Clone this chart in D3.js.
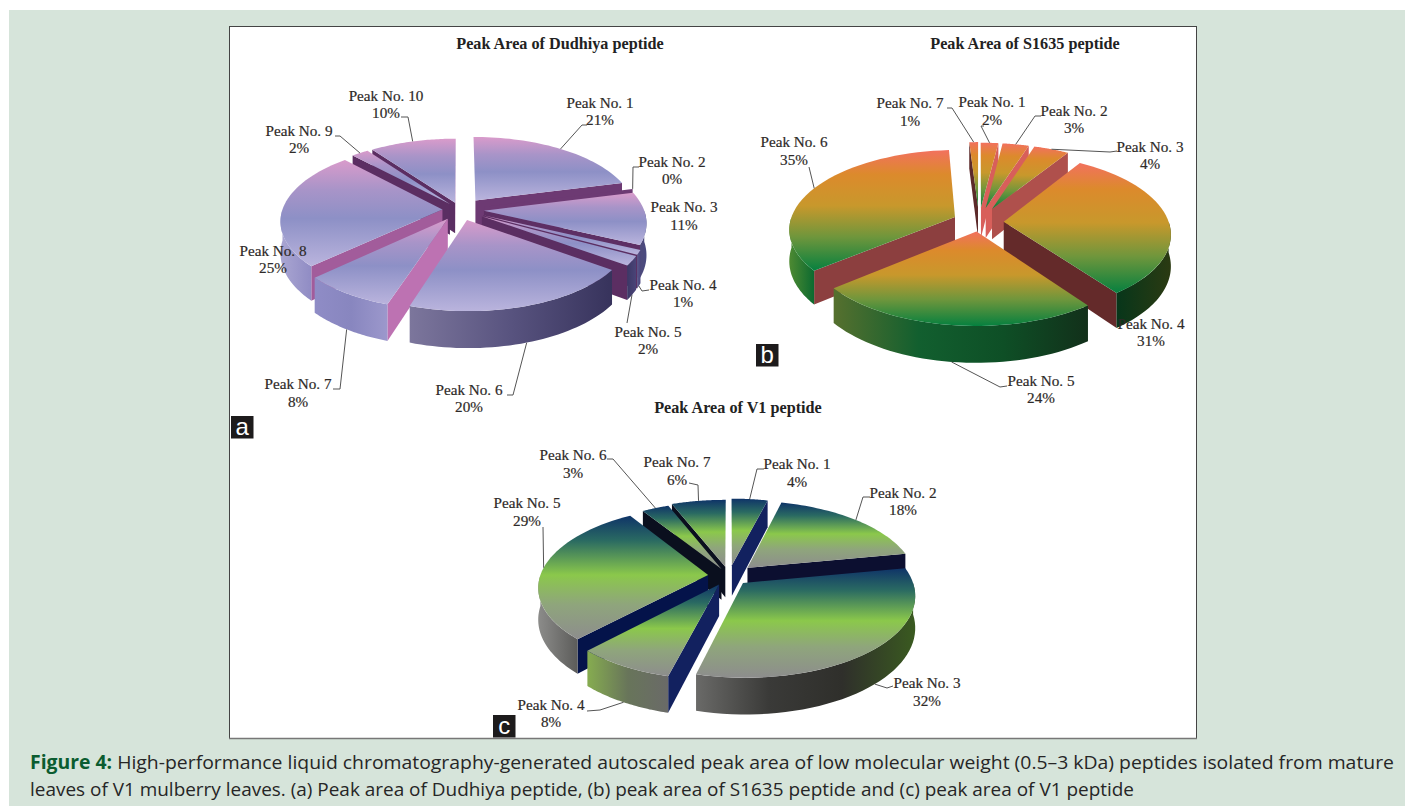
<!DOCTYPE html>
<html>
<head>
<meta charset="utf-8">
<script src="https://cdnjs.cloudflare.com/ajax/libs/d3/7.8.5/d3.min.js"></script>
<style>
html,body{margin:0;padding:0;background:#fff;overflow:hidden}
svg{display:block}
.lab{font-family:"Liberation Serif",serif;font-size:15.2px;fill:#2e2a28;stroke:#2e2a28;stroke-width:.2px;text-anchor:middle}
.ttl{font-family:"Liberation Serif",serif;font-size:16.2px;font-weight:bold;fill:#222;text-anchor:middle}
.tag{font-family:"Liberation Sans",sans-serif;font-size:24px;fill:#fff;text-anchor:middle}
.cap{font-family:"Open Sans",sans-serif;font-size:19px;fill:#262626}
.capb{font-weight:bold;fill:#0b5c30}
</style>
</head>
<body>
<svg id="fig" width="1405" height="806"></svg>
<script>
// Peak areas, percent of total, per peptide
const dudhiyaPeaks = [1, 2, 3, 4, 5, 6, 7, 8, 9, 10];
const dudhiyaValues = [21, 0, 11, 1, 2, 20, 8, 25, 2, 10];
const s1635Peaks = [1, 2, 3, 4, 5, 6, 7];
const s1635Values = [2, 3, 4, 31, 24, 35, 1];
const v1Peaks = [1, 2, 3, 4, 5, 6, 7];
const v1Values = [4, 18, 32, 8, 29, 3, 6];

const captionBold = "Figure 4:";
const captionLine1 = " High-performance liquid chromatography-generated autoscaled peak area of low molecular weight (0.5\u20133 kDa) peptides isolated from mature";
const captionLine2 = "leaves of V1 mulberry leaves. (a) Peak area of Dudhiya peptide, (b) peak area of S1635 peptide and (c) peak area of V1 peptide";

// Chart placement and styling. label: [centre x, line 1 y, line 2 y, leader bend points]
const charts = [
  {
    key: "a", title: "Peak Area of Dudhiya peptide", titleAt: [560, 44],
    peaks: dudhiyaPeaks, values: dudhiyaValues,
    cx: 460, cy: 209.7, rx: 160, ry: 75, persp: 0.143, depth: 31,
    explode: [0.16, 0.16, 0.15, 0.16, 0.16, 0.14, 0.14, 0.11, 0.1, 0.1],
    top: [[0, "#d99bcb"], [0.28, "#a894c8"], [0.55, "#8d90c6"], [1, "#bab4dd"]],
    wallNormals: [90, 108, 137, 166, 210, 270],
    wallColors: ["#bd72b2", "#bd72b2", "#a25c9b", "#6c3a72", "#5b2e62", "#5b2e62"],
    side: {
      2: ["#4e4a7a", "#4a4a80"], 3: ["#5c5888", "#4a4680"], 4: ["#3c3866", "#4a4478"],
      5: ["#7c769c", "#58537f", "#37335c"], 6: ["#8f8cc6", "#8886bf", "#9c98cc"], 7: ["#aaa6d2", "#908cc4"]
    },
    labels: [
      [600, 103, 120, [[582, 125], [587, 125]]], [672, 162, 179, [[633, 167], [639, 167]]],
      [684, 207, 225, null], [683, 285, 302, [[642, 291], [649, 290]]],
      [648, 332, 349, [[627, 323]]], [469, 390, 407, [[513, 395], [507, 395]]],
      [298, 384, 402, [[340, 389], [333, 389]]], [273, 251, 268, null],
      [299, 131, 148, [[340, 136], [335, 136]]], [386, 96, 113, [[408, 117], [401, 117]]]
    ],
    tagBox: [231, 416]
  },
  {
    key: "b", title: "Peak Area of S1635 peptide", titleAt: [1025, 44],
    peaks: s1635Peaks, values: s1635Values,
    cx: 979, cy: 222, rx: 165, ry: 78, persp: 0.143, depth: 31,
    explode: [0.19, 0.19, 0.19, 0.15, 0.12, 0.16, 0.2],
    top: [[0, "#f2715e"], [0.2, "#dc8a2c"], [0.46, "#c8982c"], [0.72, "#6f963c"], [1, "#06803f"]],
    wallNormals: [90, 108, 122, 140, 234, 270],
    wallColors: ["#d85f5a", "#d85f5a", "#b0504c", "#8c3f3f", "#642a2a", "#5b2a2a"],
    side: {
      3: ["#07361a", "#2b3a12"], 4: ["#56702e", "#125f2f", "#0e4f26", "#12301a"], 5: ["#4e8a32", "#0c6a30"]
    },
    labels: [
      [992, 102, 120, [[981, 126], [984, 126]]], [1074, 111, 128, [[1035, 116], [1041, 116]]],
      [1150, 147, 164, [[1110, 152], [1117, 151]]], [1151, 324, 341, null],
      [1041, 381, 398, [[1000, 387], [1007, 386]]], [794, 142, 160, [[809, 167]]],
      [910, 103, 121, [[952, 108], [947, 108]]]
    ],
    tagBox: [756, 344]
  },
  {
    key: "c", title: "Peak Area of V1 peptide", titleAt: [738, 408],
    peaks: v1Peaks, values: v1Values,
    cx: 729, cy: 576, rx: 168, ry: 79, persp: 0.143, depth: 31,
    explode: [0.14, 0.153, 0.12, 0.12, 0.125, 0.1, 0.12],
    top: [[0, "#0f3468"], [0.2, "#2a6a62"], [0.48, "#8bc84b"], [0.72, "#8fa57c"], [1, "#8d8d8d"]],
    wallNormals: [90, 104, 133, 169, 237, 270],
    wallColors: ["#12215f", "#12215f", "#04134a", "#0c0f30", "#0a0f1e", "#0a0f1e"],
    side: {
      2: ["#6a6a68", "#3a3a38", "#2f2f2b", "#3a5a20"], 3: ["#86ac50", "#68755a", "#6a6a68"], 4: ["#8c8c8a", "#5c5c5a"]
    },
    labels: [
      [797, 464, 482, [[757, 469], [764, 469]]], [903, 493, 510, [[863, 497], [870, 497]]],
      [927, 683, 701, [[887, 688], [893, 686]]], [551, 705, 722, [[600, 710], [587, 711]]],
      [527, 503, 521, [[543, 527]]], [573, 455, 473, [[613, 459], [607, 459]]],
      [677, 462, 480, [[698, 485], [689, 483]]]
    ],
    tagBox: [493, 715]
  }
];

const svg = d3.select("#fig");
const defs = svg.append("defs");

// page background and the white figure frame
svg.append("rect").attr("x", 9).attr("y", 10).attr("width", 1396).attr("height", 796).attr("fill", "#d6e4da");
svg.append("rect").attr("x", 229.5).attr("y", 26.5).attr("width", 967).attr("height", 712)
  .attr("fill", "#fff").attr("stroke", "#444").attr("stroke-width", 1);
svg.append("line").attr("x1", 229).attr("x2", 1197).attr("y1", 738.5).attr("y2", 738.5)
  .attr("stroke", "#777").attr("stroke-width", 1.5);

const toDeg = r => r * 180 / Math.PI;
const smooth = d3.line();

function gradient(id, stops, horizontal) {
  const g = defs.append("linearGradient").attr("id", id)
    .attr("x1", 0).attr("y1", 0).attr("x2", horizontal ? 1 : 0).attr("y2", horizontal ? 0 : 1);
  stops.forEach(s => g.append("stop").attr("offset", s[0]).attr("stop-color", s[1]));
  return `url(#${id})`;
}

function drawChart(c) {
  const g = svg.append("g");
  const xScale = d3.scaleLinear().domain([-1, 1]).range([-c.rx, c.rx]);
  const zScale = d3.scaleLinear().domain([-1, 1]).range([-c.ry, c.ry]);
  const wallShade = d3.scaleLinear().domain(c.wallNormals).range(c.wallColors).interpolate(d3.interpolateRgb);

  // ground plane to screen, with a little perspective toward the viewer
  const project = (x, z, lift) => {
    const w = 1 / (1 - c.persp * z);
    return [c.cx + xScale(x) * w, c.cy + zScale(z) * w + (lift ? c.depth * w : 0)];
  };

  const arcs = d3.pie().sort(null).startAngle(0).endAngle(2 * Math.PI)(c.values);

  const slices = arcs.map((a, i) => {
    const mid = (a.startAngle + a.endAngle) / 2;
    const e = c.explode[i];
    const ox = Math.sin(mid) * e, oz = -Math.cos(mid) * e;
    const rim = (t, lift) => project(ox + Math.sin(t), oz - Math.cos(t), lift);
    const apex = lift => project(ox, oz, lift);
    return { a, i, mid, rim, apex, order: -Math.cos(mid) * (0.5 + e) };
  });

  slices.sort((p, q) => d3.ascending(p.order, q.order));

  slices.forEach(s => {
    const { a, i, rim, apex } = s;
    const group = g.append("g");
    const steps = t0 => t1 => d3.range(0, 41).map(k => t0 + (t1 - t0) * k / 40);

    // cut faces that turn toward the viewer
    const wall = (t, normal) => group.append("path")
      .attr("d", smooth([apex(false), rim(t, false), rim(t, true), apex(true)]) + "Z")
      .attr("fill", wallShade(((normal % 360) + 360) % 360 < 90 ? 90 : ((normal % 360) + 360) % 360));
    if (Math.sin(a.startAngle) < 0) wall(a.startAngle, toDeg(a.startAngle) - 90);
    if (Math.sin(a.endAngle) > 0) wall(a.endAngle, toDeg(a.endAngle) + 90);

    // outer rim on the front half
    const t0 = Math.max(a.startAngle, Math.PI / 2), t1 = Math.min(a.endAngle, 3 * Math.PI / 2);
    if (t1 > t0) {
      const ts = steps(t0)(t1);
      const stops = c.side[i] || ["#444", "#444"];
      const fill = gradient(`side-${c.key}-${i}`, stops.map((col, k) => [k / (stops.length - 1), col]), true);
      group.append("path")
        .attr("d", smooth(ts.map(t => rim(t, false)).concat(ts.slice().reverse().map(t => rim(t, true)))) + "Z")
        .attr("fill", fill);
    }

    // top face
    if (a.endAngle > a.startAngle) {
      const ts = steps(a.startAngle)(a.endAngle);
      group.append("path")
        .attr("d", smooth([apex(false)].concat(ts.map(t => rim(t, false)))) + "Z")
        .attr("fill", gradient(`top-${c.key}-${i}`, c.top, false));
    }
  });

  // leader lines start on the rim of their slice
  const byIndex = d3.index(slices, s => s.i);
  const text = svg.append("g");
  c.peaks.forEach((peak, i) => {
    const [lx, y1, y2, bends] = c.labels[i];
    if (bends) {
      const s = byIndex.get(i);
      const front = Math.cos(s.mid) < 0;
      text.append("path")
        .attr("d", smooth([s.rim(s.mid, front)].concat(bends)))
        .attr("fill", "none").attr("stroke", "#555").attr("stroke-width", 1);
    }
    text.append("text").attr("class", "lab").attr("x", lx).attr("y", y1 + 5).text(`Peak No. ${peak}`);
    text.append("text").attr("class", "lab").attr("x", lx).attr("y", y2 + 5).text(`${c.values[i]}%`);
  });

  text.append("text").attr("class", "ttl").attr("x", c.titleAt[0]).attr("y", c.titleAt[1] + 5).text(c.title);

  text.append("rect").attr("x", c.tagBox[0]).attr("y", c.tagBox[1])
    .attr("width", 22.5).attr("height", 22.5).attr("fill", "#1d1b1c");
  text.append("text").attr("class", "tag").attr("x", c.tagBox[0] + 11.2).attr("y", c.tagBox[1] + 18.5).text(c.key);
}

charts.forEach(drawChart);

// caption
const line1 = svg.append("text").attr("class", "cap").attr("x", 30).attr("y", 769)
  .attr("textLength", 1364).attr("lengthAdjust", "spacingAndGlyphs");
line1.append("tspan").attr("class", "capb").text(captionBold);
line1.append("tspan").text(captionLine1);
svg.append("text").attr("class", "cap").attr("x", 30).attr("y", 796)
  .attr("textLength", 1104).attr("lengthAdjust", "spacingAndGlyphs").text(captionLine2);
</script>
</body>
</html>
